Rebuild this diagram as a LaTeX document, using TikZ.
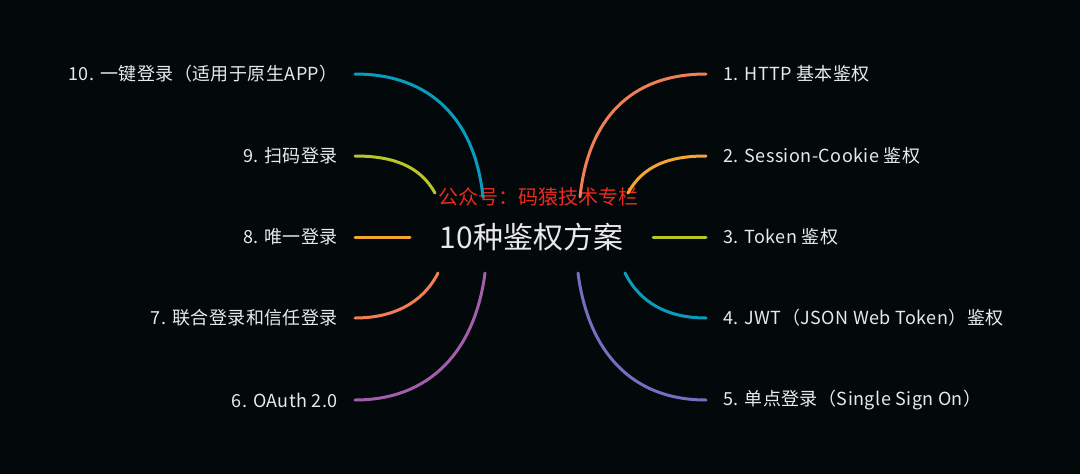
\documentclass[tikz,border=0pt]{standalone}
\usepackage{fontspec}
\setmainfont{Noto Sans CJK SC}
\newfontfamily\lblfont{Noto Sans CJK SC}[LetterSpace=2.5]
\definecolor{bg}{HTML}{03080B}
\definecolor{txt}{HTML}{E8EAEA}
\definecolor{cA}{HTML}{F27E55}
\definecolor{cB}{HTML}{F7A531}
\definecolor{cC}{HTML}{B8C627}
\definecolor{cD}{HTML}{0A9CBC}
\definecolor{cE}{HTML}{7A6CC0}
\definecolor{cF}{HTML}{A35EA9}
\definecolor{wm}{HTML}{EA2A1E}
\begin{document}
\begin{tikzpicture}[x=1pt,y=-1pt,
  lbl/.style={text=txt,font=\lblfont\fontsize{18}{20}\selectfont,inner sep=0pt},
  rlbl/.style={lbl,anchor=west},
  llbl/.style={lbl,anchor=east},
  branch/.style={line width=3pt,line cap=round}]
\fill[bg] (0,0) rectangle (1080,474);
\useasboundingbox (0,0) rectangle (1080,474);
% center
\node[text=txt,font=\fontsize{30}{34}\selectfont,inner sep=0pt] (root) at (531.5,237) {10种鉴权方案};
\node[text=wm,font=\fontsize{20}{22}\selectfont,inner sep=0pt] (wmk) at (538.5,197) {公众号：码猿技术专栏};
% start coordinates
\coordinate (s1) at (580,197);
\coordinate (s2) at (628,193);
\coordinate (s3) at (653,237);
\coordinate (s4) at (625,273);
\coordinate (s5) at (578,273);
\coordinate (s10) at (483,197);
\coordinate (s9) at (435,193);
\coordinate (s8) at (410,237);
\coordinate (s7) at (438,273);
\coordinate (s6) at (485,273);
% labels right
\node[rlbl] (l1) at (723,74) {1. HTTP 基本鉴权};
\node[rlbl] (l2) at (723,156) {2. Session-Cookie 鉴权};
\node[rlbl] (l3) at (723,237) {3. Token 鉴权};
\node[rlbl] (l4) at (723,318) {4. JWT（JSON Web Token）鉴权};
\node[rlbl] (l5) at (723,400) {5. 单点登录（Single Sign On）};
% labels left
\node[llbl] (l10) at (338,74) {10. 一键登录（适用于原生APP）};
\node[llbl] (l9) at (338,156) {9. 扫码登录};
\node[llbl] (l8) at (338,237) {8. 唯一登录};
\node[llbl] (l7) at (338,318) {7. 联合登录和信任登录};
\node[llbl] (l6) at (338,400) {6. OAuth 2.0};
% right branches
\draw[branch,cA] (s1) .. controls +(8,-77) and +(-76,0) .. ([xshift=-17pt]l1.west);
\draw[branch,cB] (s2) .. controls +(15,-27) and +(-38,0) .. ([xshift=-17pt]l2.west);
\draw[branch,cC] (s3) -- ([xshift=-17pt]l3.west);
\draw[branch,cD] (s4) .. controls +(15,30) and +(-38,0) .. ([xshift=-17pt]l4.west);
\draw[branch,cE] (s5) .. controls +(10,77) and +(-76,0) .. ([xshift=-17pt]l5.west);
% left branches
\draw[branch,cD] (s10) .. controls +(-8,-77) and +(76,0) .. ([xshift=17pt]l10.east);
\draw[branch,cC] (s9) .. controls +(-15,-27) and +(38,0) .. ([xshift=17pt]l9.east);
\draw[branch,cB] (s8) -- ([xshift=17pt]l8.east);
\draw[branch,cA] (s7) .. controls +(-15,30) and +(38,0) .. ([xshift=17pt]l7.east);
\draw[branch,cF] (s6) .. controls +(-10,77) and +(76,0) .. ([xshift=17pt]l6.east);
\end{tikzpicture}
\end{document}
